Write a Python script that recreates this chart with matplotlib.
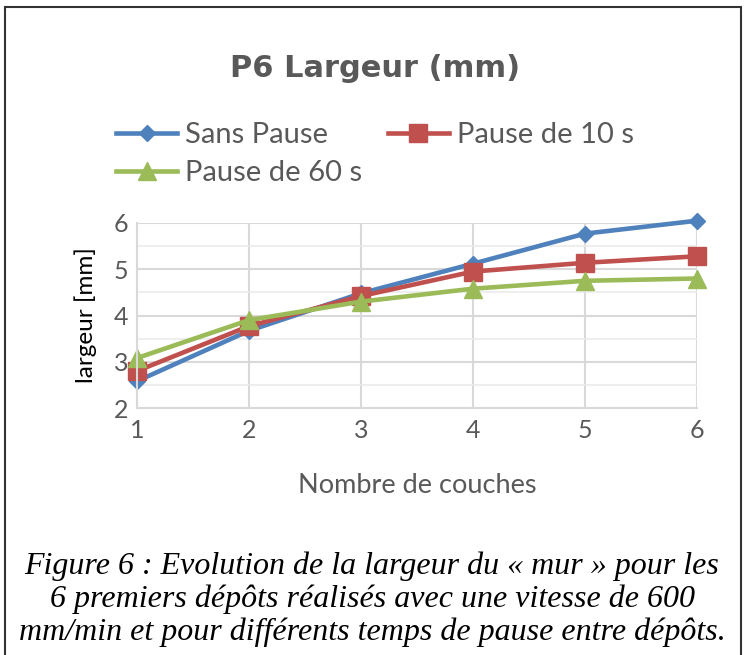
import matplotlib.pyplot as plt
from matplotlib.patches import Rectangle
from matplotlib.ticker import MultipleLocator

# data
couches = [1, 2, 3, 4, 5, 6]
sans_pause = [2.58, 3.67, 4.48, 5.12, 5.77, 6.05]
pause_10 = [2.8, 3.77, 4.42, 4.95, 5.14, 5.28]
pause_60 = [3.08, 3.9, 4.3, 4.58, 4.75, 4.8]
labels = ["Sans Pause", "Pause de 10 s", "Pause de 60 s"]

title = "P6 Largeur (mm)"
xlabel = "Nombre de couches"
ylabel = "largeur [mm]"
caption = ("Figure 6 : Evolution de la largeur du « mur » pour les\n"
           "6 premiers dépôts réalisés avec une vitesse de 600\n"
           "mm/min et pour différents temps de pause entre dépôts.")

grey = "#595959"
plt.rcParams['font.family'] = ['Lato', 'DejaVu Sans']

fig = plt.figure(figsize=(7.46, 6.55), dpi=100)
ax = fig.add_axes([137 / 746, 1 - 408 / 655, 560 / 746, 185 / 655])

ax.plot(couches, sans_pause, color="#4F81BD", lw=3.3, marker="D", ms=8.5,
        label=labels[0], clip_on=False)
ax.plot(couches, pause_10, color="#C0504D", lw=3.3, marker="s", ms=12.5,
        label=labels[1], clip_on=False)
ax.plot(couches, pause_60, color="#9BBB59", lw=3.3, marker="^", ms=13,
        label=labels[2], clip_on=False)

ax.set_xlim(1, 6)
ax.set_ylim(2, 6)
ax.set_xticks(couches)
ax.yaxis.set_major_locator(MultipleLocator(1))
ax.yaxis.set_minor_locator(MultipleLocator(0.5))
ax.grid(which="major", color="#D9D9D9", lw=1.5)
ax.grid(which="minor", axis="y", color="#EBEBEB", lw=1.2)
ax.set_axisbelow(True)
for s in ["top", "right"]:
    ax.spines[s].set_visible(False)
for s in ["left", "bottom"]:
    ax.spines[s].set_color("#D9D9D9")
    ax.spines[s].set_linewidth(1.5)
ax.tick_params(which="both", length=0, labelsize=18, colors=grey)
ax.tick_params(axis="x", pad=8)
ax.tick_params(axis="y", pad=6)

fig.text(375 / 746, 1 - 77 / 655, title, ha="center", va="baseline", fontsize=22,
         fontweight="bold", color=grey, family="DejaVu Sans")
ax.set_xlabel(xlabel, fontsize=19.5, color=grey, labelpad=22)
ax.set_ylabel(ylabel, fontsize=17.5, color="black", labelpad=12)

h, l = ax.get_legend_handles_labels()
order = [0, 2, 1]
fig.legend([h[i] for i in order], [l[i] for i in order], ncol=2,
           loc="center left", bbox_to_anchor=(116 / 746, 1 - 154 / 655),
           frameon=False, fontsize=21, labelcolor=grey, handlelength=2.1,
           handletextpad=0.28, columnspacing=0.86, labelspacing=0.42,
           borderpad=0, borderaxespad=0)

fig.text(372 / 746, 1 - 599 / 655, caption, ha="center", va="center", fontsize=23,
         family="Liberation Serif", style="italic", linespacing=1.16)

fig.patches.append(Rectangle((5 / 746, -0.02), 736 / 746, 1.02 - 7 / 655,
                             transform=fig.transFigure, fill=False,
                             edgecolor="#333333", lw=1.5))

fig.savefig("out.png", dpi=100)
